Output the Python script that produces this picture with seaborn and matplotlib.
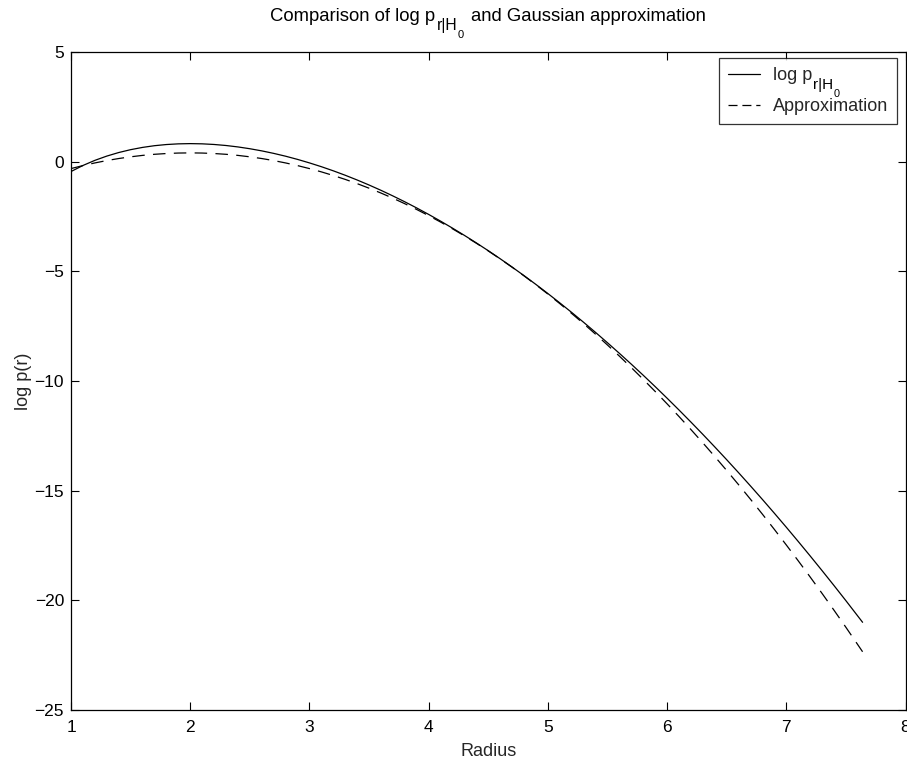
import numpy as np
import pandas as pd
import matplotlib
matplotlib.use("Agg")
import matplotlib.pyplot as plt
from matplotlib.font_manager import FontProperties
import seaborn as sns

# Data
radius = [1.0, 1.1, 1.2, 1.3, 1.4, 1.5, 1.6, 1.7, 1.8, 1.9, 2.0, 2.1, 2.2, 2.3,
          2.4, 2.5, 2.6, 2.7, 2.8, 2.9, 3.0, 3.1, 3.2, 3.3, 3.4, 3.5, 3.6, 3.7,
          3.8, 3.9, 4.0, 4.1, 4.2, 4.3, 4.4, 4.5, 4.6, 4.7, 4.8, 4.9, 5.0, 5.1,
          5.2, 5.3, 5.4, 5.5, 5.6, 5.7, 5.8, 5.9, 6.0, 6.1, 6.2, 6.3, 6.4, 6.5,
          6.6, 6.7, 6.8, 6.9, 7.0, 7.1, 7.2, 7.3, 7.4, 7.5, 7.64]
log_p = [-0.450, -0.174, 0.059, 0.254, 0.416, 0.547, 0.650, 0.728, 0.781, 0.812,
         0.823, 0.813, 0.784, 0.737, 0.672, 0.590, 0.492, 0.378, 0.249, 0.104,
         -0.056, -0.229, -0.417, -0.619, -0.835, -1.064, -1.306, -1.562, -1.830,
         -2.111, -2.405, -2.711, -3.030, -3.361, -3.704, -4.059, -4.426, -4.805,
         -5.196, -5.598, -6.012, -6.438, -6.875, -7.324, -7.784, -8.256, -8.739,
         -9.233, -9.738, -10.255, -10.783, -11.322, -11.872, -12.433, -13.005,
         -13.588, -14.182, -14.787, -15.402, -16.029, -16.666, -17.315, -17.974,
         -18.644, -19.324, -20.015, -21.001]
approx = [-0.315, -0.179, -0.058, 0.050, 0.143, 0.221, 0.286, 0.336, 0.371, 0.393,
          0.400, 0.393, 0.371, 0.336, 0.286, 0.221, 0.143, 0.050, -0.058, -0.179,
          -0.315, -0.465, -0.630, -0.808, -1.001, -1.209, -1.430, -1.666, -1.917,
          -2.181, -2.460, -2.753, -3.061, -3.382, -3.718, -4.069, -4.433, -4.812,
          -5.206, -5.613, -6.035, -6.471, -6.922, -7.386, -7.865, -8.359, -8.866,
          -9.388, -9.925, -10.475, -11.040, -11.619, -12.213, -12.820, -13.442,
          -14.079, -14.729, -15.394, -16.074, -16.767, -17.475, -18.197, -18.934,
          -19.684, -20.449, -21.229, -22.344]

x_ticks = [1, 2, 3, 4, 5, 6, 7, 8]
y_ticks = [-25, -20, -15, -10, -5, 0, 5]

series_names = ["log p", "Approximation"]
title_main = "Comparison of log p"
title_sub = "r|H"
title_subsub = "0"
title_rest = "and Gaussian approximation"

sns.set_theme(style="white")
plt.rcParams["font.family"] = ["Liberation Sans", "DejaVu Sans"]
plt.rcParams["lines.scale_dashes"] = False

W, H = 907, 763
fig = plt.figure(figsize=(W / 100, H / 100), dpi=100)
ax = fig.add_axes([71 / W, 53 / H, 834.5 / W, 658 / H])

df1 = pd.DataFrame({"Radius": radius, "val": log_p})
df2 = pd.DataFrame({"Radius": radius, "val": approx})

sns.lineplot(data=df1, x="Radius", y="val", ax=ax, color="black", linewidth=0.9,
             label=series_names[0], sort=False)
sns.lineplot(data=df2, x="Radius", y="val", ax=ax, color="black", linewidth=0.9,
             label=series_names[1], sort=False)
ax.lines[1].set_dashes((9, 6))

ax.set_xlim(1, 8)
ax.set_ylim(-25, 5)
ax.set_xticks(x_ticks)
ax.set_yticks(y_ticks)
ax.set_xticklabels([str(t) for t in x_ticks])
ax.set_yticklabels([str(t).replace("-", "\u2212") for t in y_ticks])

ax.tick_params(direction="in", length=6, width=0.8, top=True, right=True,
               bottom=True, left=True, labelsize=12.5, colors="black")
ax.tick_params(axis="x", pad=7)
ax.tick_params(axis="y", pad=5)
for s in ax.spines.values():
    s.set_color("black")
    s.set_linewidth(0.9)

ax.set_xlabel("Radius", fontsize=13, labelpad=6)
ax.set_ylabel("log p(r)", fontsize=13)
ax.yaxis.set_label_coords(-0.047, 0.5)

FS = 13
leg = ax.legend(loc="upper right", bbox_to_anchor=((897 - 71) / 834.5, (705 - 53) / 658),
                borderaxespad=0, fontsize=FS, frameon=True, fancybox=False,
                handlelength=1.75, handletextpad=0.7, borderpad=0.5, labelspacing=0.8)
leg.get_frame().set_edgecolor("black")
leg.get_frame().set_linewidth(0.9)
leg.get_lines()[1].set_dashes((6.5, 3.5))

fig.canvas.draw()
renderer = fig.canvas.get_renderer()


def add_pieces(x0, y_base, pieces, measure_only=False):
    """pieces: list of (text, size, dy_px, gap_before_px). Coordinates in pixels."""
    x = x0
    objs = []
    for txt, size, dy, gap in pieces:
        x += gap
        t = fig.text(x / W, (y_base + dy) / H, txt, fontsize=size, ha="left",
                     va="baseline", color="black")
        w = t.get_window_extent(renderer).width
        objs.append(t)
        x += w
    if measure_only:
        for t in objs:
            t.remove()
    return x - x0, objs


# Title: composed text with nested subscripts, centred over the axes
title_pieces = [(title_main, 13.3, 0, 0), (title_sub, 11.3, -9, 1),
                (title_subsub, 8, -17, 1), (title_rest, 13.3, 0, 7)]
total_w, _ = add_pieces(0, H - 21, title_pieces, measure_only=True)
cx = 71 + 834.5 / 2
add_pieces(cx - total_w / 2, H - 21, title_pieces)

# Legend first label: append subscripts after "log p"
lt = leg.get_texts()[0]
bb = lt.get_window_extent(renderer)
prop = FontProperties(family=["Liberation Sans", "DejaVu Sans"], size=FS)
_, _, lp_d = renderer.get_text_width_height_descent("lp", prop, ismath=False)
base = bb.y0 + lp_d
add_pieces(bb.x1, base, [(title_sub, 11, -9, 1), (title_subsub, 7.8, -17, 1)])

fig.savefig("out.png", dpi=100, facecolor="white")
